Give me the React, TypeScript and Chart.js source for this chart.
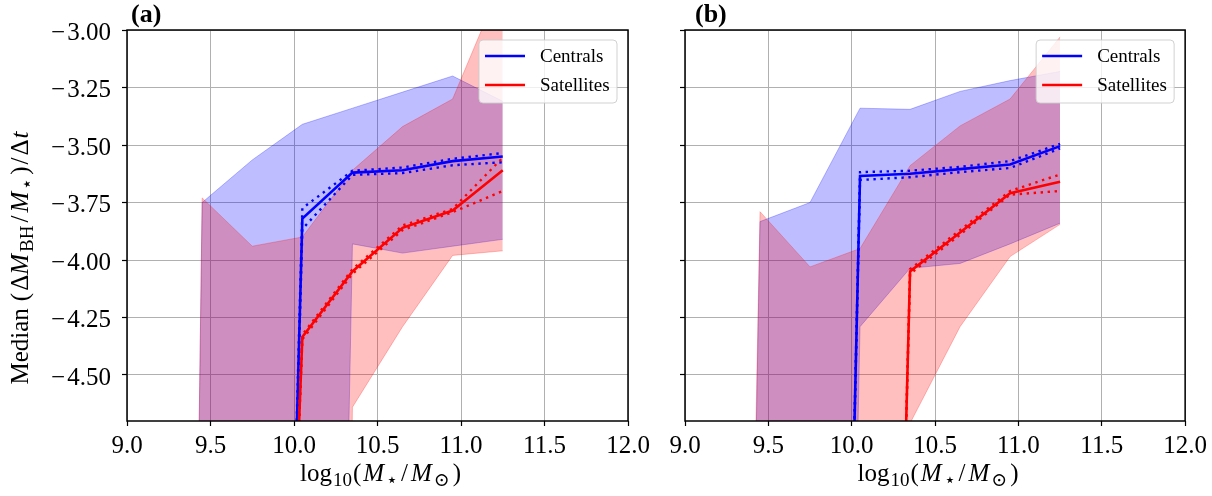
import React, { useEffect, useRef } from "react";
import { Chart, registerables } from "chart.js";

Chart.register(...registerables);

// ---------------- data ----------------
const X_BINS = [9.15, 9.45, 9.75, 10.05, 10.35, 10.65, 10.95, 11.25];
const X_TICKS = [9.0, 9.5, 10.0, 10.5, 11.0, 11.5, 12.0];
const Y_TICKS = [-3.0, -3.25, -3.5, -3.75, -4.0, -4.25, -4.5];
const X_RANGE = [9.0, 12.0];
const Y_RANGE = [-4.7, -3.0];
const SERIES_NAMES = ["Centrals", "Satellites"];
const PANEL_LABELS = ["(a)", "(b)"];

// panel (a)
const A_CEN_P16 = [-20, -15, -15, -15, -3.93, -3.97, -3.94, -3.91];
const A_CEN_P84 = [-20, -3.75, -3.565, -3.41, -3.34, -3.27, -3.2, -3.31];
const A_SAT_P16 = [-20, -20, -20, -20, -4.64, -4.29, -3.98, -3.96];
const A_SAT_P84 = [-20, -3.73, -3.94, -3.9, -3.61, -3.42, -3.3, -2.78];
const A_CEN_MED = [null, null, -12, -3.82, -3.62, -3.61, -3.57, -3.55];
const A_CEN_MED_HI = [null, null, -12, -3.775, -3.612, -3.598, -3.56, -3.535];
const A_CEN_MED_LO = [null, null, -12, -3.865, -3.63, -3.622, -3.588, -3.575];
const A_SAT_MED = [null, null, -10, -4.335, -4.05, -3.86, -3.785, -3.61];
const A_SAT_MED_HI = [null, null, -10, -4.325, -4.04, -3.85, -3.778, -3.555];
const A_SAT_MED_LO = [null, null, -10, -4.345, -4.06, -3.87, -3.792, -3.7];

// panel (b)
const B_CEN_P16 = [-16, -15, -15, -4.29, -4.036, -4.015, -3.93, -3.84];
const B_CEN_P84 = [-16, -3.833, -3.75, -3.34, -3.345, -3.267, -3.22, -3.18];
const B_SAT_P16 = [-15, -15, -15, -15, -4.71, -4.29, -3.985, -3.845];
const B_SAT_P84 = [-15, -3.79, -4.03, -3.95, -3.59, -3.417, -3.3, -3.03];
const B_CEN_MED = [null, null, -13.3, -3.635, -3.625, -3.605, -3.585, -3.505];
const B_CEN_MED_HI = [null, null, -13.3, -3.618, -3.612, -3.595, -3.57, -3.495];
const B_CEN_MED_LO = [null, null, -13.3, -3.652, -3.64, -3.618, -3.6, -3.515];
const B_SAT_MED = [null, null, null, -12.5, -4.05, -3.88, -3.71, -3.66];
const B_SAT_MED_HI = [null, null, null, -12.5, -4.04, -3.87, -3.7, -3.628];
const B_SAT_MED_LO = [null, null, null, -12.5, -4.06, -3.89, -3.716, -3.7];

// ---------------- styling ----------------
const FAMILY = "'Liberation Serif', 'Times New Roman', 'DejaVu Serif', serif";
const BLUE = "#0000ff";
const RED = "#ff0000";
const BLUE_BAND = "rgba(0,0,255,0.26)";
const RED_BAND = "rgba(255,0,0,0.25)";

type Seg = { t: string; it?: boolean; sub?: boolean; g?: number };

const X_TITLE: Seg[] = [
  { t: "log", g: 1 },
  { t: "10", sub: true, g: 1 },
  { t: "(", g: 2 },
  { t: "M", it: true, g: 2 },
  { t: "\u22C6", sub: true, g: 3 },
  { t: "/", g: 3 },
  { t: "M", it: true, g: 2 },
  { t: "\u2299", sub: true, g: 3 },
  { t: ")" },
];
const Y_TITLE: Seg[] = [
  { t: "Median", g: 7 },
  { t: "(", g: 2 },
  { t: "\u0394" },
  { t: "M", it: true, g: 2 },
  { t: "BH", sub: true, g: 3 },
  { t: "/", g: 3 },
  { t: "M", it: true, g: 2 },
  { t: "\u22C6", sub: true, g: 3 },
  { t: ")", g: 2 },
  { t: "/", g: 2 },
  { t: "\u0394", g: 1 },
  { t: "t", it: true },
];

function segFont(s: Seg, size: number) {
  const sz = s.sub ? size * 0.76 : size;
  return `${s.it ? "italic " : ""}${sz}px ${FAMILY}`;
}

function drawRich(ctx: CanvasRenderingContext2D, segs: Seg[], size: number, x: number, y: number, rot: number) {
  ctx.save();
  ctx.translate(x, y);
  ctx.rotate(rot);
  ctx.textBaseline = "alphabetic";
  ctx.textAlign = "left";
  ctx.fillStyle = "#000";
  const widths = segs.map((s) => {
    ctx.font = segFont(s, size);
    return ctx.measureText(s.t).width + (s.g || 0);
  });
  const total = widths.reduce((a, b) => a + b, 0);
  let cx = -total / 2;
  segs.forEach((s, i) => {
    ctx.font = segFont(s, size);
    ctx.fillText(s.t, cx, s.sub ? size * 0.2 : 0);
    cx += widths[i];
  });
  ctx.restore();
}

function drawLegend(ctx: CanvasRenderingContext2D, area: any) {
  const w = 138;
  const h = 63;
  const x = area.right - 11 - w;
  const y = area.top + 10;
  const r = 4;
  ctx.save();
  ctx.beginPath();
  ctx.moveTo(x + r, y);
  ctx.lineTo(x + w - r, y);
  ctx.quadraticCurveTo(x + w, y, x + w, y + r);
  ctx.lineTo(x + w, y + h - r);
  ctx.quadraticCurveTo(x + w, y + h, x + w - r, y + h);
  ctx.lineTo(x + r, y + h);
  ctx.quadraticCurveTo(x, y + h, x, y + h - r);
  ctx.lineTo(x, y + r);
  ctx.quadraticCurveTo(x, y, x + r, y);
  ctx.closePath();
  ctx.fillStyle = "rgba(255,255,255,0.8)";
  ctx.fill();
  ctx.strokeStyle = "rgba(204,204,204,0.9)";
  ctx.lineWidth = 1;
  ctx.stroke();
  const colors = [BLUE, RED];
  SERIES_NAMES.forEach((name, i) => {
    const ly = y + 16 + i * 29;
    ctx.beginPath();
    ctx.moveTo(x + 6, ly);
    ctx.lineTo(x + 46, ly);
    ctx.strokeStyle = colors[i];
    ctx.lineWidth = 2.6;
    ctx.stroke();
    ctx.fillStyle = "#000";
    ctx.font = `19px ${FAMILY}`;
    ctx.textBaseline = "middle";
    ctx.textAlign = "left";
    ctx.fillText(name, x + 61, ly + 1);
  });
  ctx.restore();
}

function pts(ys: (number | null)[]) {
  return X_BINS.map((x, i) => ({ x, y: ys[i] })).filter((p) => p.y !== null);
}

type Panel = {
  label: string;
  labelX: number;
  yLabels: boolean;
  yAxisWidth: number;
  padRight: number;
  cenLo: (number | null)[];
  cenHi: (number | null)[];
  satLo: (number | null)[];
  satHi: (number | null)[];
  cenMed: (number | null)[];
  cenMedHi: (number | null)[];
  cenMedLo: (number | null)[];
  satMed: (number | null)[];
  satMedHi: (number | null)[];
  satMedLo: (number | null)[];
};

function lineDs(data: (number | null)[], color: string, dotted: boolean, order: number) {
  return {
    data: pts(data),
    borderColor: color,
    backgroundColor: color,
    borderWidth: dotted ? 2.4 : 2.6,
    borderDash: dotted ? [2.4, 4.6] : [],
    borderCapStyle: "butt",
    pointRadius: 0,
    fill: false,
    order,
  };
}

function makeConfig(p: Panel): any {
  const datasets: any[] = [
    lineDs(p.satMed, RED, false, 0),
    lineDs(p.satMedHi, RED, true, 0),
    lineDs(p.satMedLo, RED, true, 0),
    lineDs(p.cenMed, BLUE, false, 1),
    lineDs(p.cenMedHi, BLUE, true, 1),
    lineDs(p.cenMedLo, BLUE, true, 1),
    { data: pts(p.satLo), borderColor: RED_BAND, borderWidth: 1, pointRadius: 0, fill: false, order: 2 },
    { data: pts(p.satHi), borderColor: RED_BAND, backgroundColor: RED_BAND, borderWidth: 1, pointRadius: 0, fill: "-1", order: 2 },
    { data: pts(p.cenLo), borderColor: BLUE_BAND, borderWidth: 1, pointRadius: 0, fill: false, order: 3 },
    { data: pts(p.cenHi), borderColor: BLUE_BAND, backgroundColor: BLUE_BAND, borderWidth: 1, pointRadius: 0, fill: "-1", order: 3 },
  ];

  const decor = {
    id: "decor",
    afterDatasetsDraw(chart: any) {
      const ctx = chart.ctx as CanvasRenderingContext2D;
      const a = chart.chartArea;
      ctx.save();
      ctx.strokeStyle = "#000";
      ctx.lineWidth = 1.5;
      ctx.strokeRect(a.left, a.top, a.right - a.left, a.bottom - a.top);
      ctx.restore();
      drawLegend(ctx, a);
      // panel label
      ctx.save();
      ctx.fillStyle = "#000";
      ctx.font = `bold 26px ${FAMILY}`;
      ctx.textBaseline = "alphabetic";
      ctx.textAlign = "left";
      ctx.fillText(p.label, p.labelX, 22);
      ctx.restore();
      drawRich(ctx, X_TITLE, 25, (a.left + a.right) / 2 + 3, 481, 0);
      if (p.yLabels) drawRich(ctx, Y_TITLE, 25, 28, 258, -Math.PI / 2);
    },
  };

  return {
    type: "line",
    data: { datasets },
    options: {
      responsive: false,
      animation: false,
      devicePixelRatio: 1,
      events: [],
      layout: { padding: { left: 0, right: p.padRight, top: 30, bottom: 0 } },
      plugins: { legend: { display: false }, tooltip: { enabled: false }, title: { display: false } },
      scales: {
        x: {
          type: "linear",
          min: X_RANGE[0],
          max: X_RANGE[1],
          afterBuildTicks: (s: any) => {
            s.ticks = X_TICKS.map((v) => ({ value: v }));
          },
          afterFit: (s: any) => {
            s.height = 75;
          },
          grid: { color: "#b0b0b0", lineWidth: 1, tickColor: "#000", tickLength: 5, tickWidth: 1.2, drawTicks: true },
          border: { display: false },
          ticks: {
            autoSkip: false,
            maxRotation: 0,
            padding: 5,
            color: "#000",
            font: { family: FAMILY, size: 25 },
            callback: (v: number) => Number(v).toFixed(1),
          },
        },
        y: {
          type: "linear",
          min: Y_RANGE[0],
          max: Y_RANGE[1],
          afterBuildTicks: (s: any) => {
            s.ticks = Y_TICKS.map((v) => ({ value: v }));
          },
          afterFit: (s: any) => {
            s.width = p.yAxisWidth;
          },
          grid: { color: "#b0b0b0", lineWidth: 1, tickColor: "#000", tickLength: 5, tickWidth: 1.2, drawTicks: true },
          border: { display: false },
          ticks: {
            display: p.yLabels,
            autoSkip: false,
            padding: 11,
            labelOffset: 3,
            color: "#000",
            font: { family: FAMILY, size: 25 },
            callback: (v: number) => (v < 0 ? "\u2212\u200A" : "") + Math.abs(Number(v)).toFixed(2),
          },
        },
      },
    },
    plugins: [decor],
  };
}

const PANEL_A: Panel = {
  label: PANEL_LABELS[0],
  labelX: 131,
  yLabels: true,
  yAxisWidth: 127,
  padRight: 32,
  cenLo: A_CEN_P16,
  cenHi: A_CEN_P84,
  satLo: A_SAT_P16,
  satHi: A_SAT_P84,
  cenMed: A_CEN_MED,
  cenMedHi: A_CEN_MED_HI,
  cenMedLo: A_CEN_MED_LO,
  satMed: A_SAT_MED,
  satMedHi: A_SAT_MED_HI,
  satMedLo: A_SAT_MED_LO,
};

const PANEL_B: Panel = {
  label: PANEL_LABELS[1],
  labelX: 40,
  yLabels: false,
  yAxisWidth: 30,
  padRight: 24,
  cenLo: B_CEN_P16,
  cenHi: B_CEN_P84,
  satLo: B_SAT_P16,
  satHi: B_SAT_P84,
  cenMed: B_CEN_MED,
  cenMedHi: B_CEN_MED_HI,
  cenMedLo: B_CEN_MED_LO,
  satMed: B_SAT_MED,
  satMedHi: B_SAT_MED_HI,
  satMedLo: B_SAT_MED_LO,
};

export default function App() {
  const refA = useRef<HTMLCanvasElement>(null);
  const refB = useRef<HTMLCanvasElement>(null);
  useEffect(() => {
    const ca = new Chart(refA.current as HTMLCanvasElement, makeConfig(PANEL_A));
    const cb = new Chart(refB.current as HTMLCanvasElement, makeConfig(PANEL_B));
    return () => {
      ca.destroy();
      cb.destroy();
    };
  }, []);
  return (
    <div style={{ position: "fixed", left: 0, top: 0, width: 1212, height: 496, background: "#fff" }}>
      <canvas
        ref={refA}
        width={660}
        height={496}
        style={{ position: "absolute", left: 0, top: 0, width: 660, height: 496 }}
      />
      <canvas
        ref={refB}
        width={557}
        height={496}
        style={{ position: "absolute", left: 655, top: 0, width: 557, height: 496 }}
      />
    </div>
  );
}
